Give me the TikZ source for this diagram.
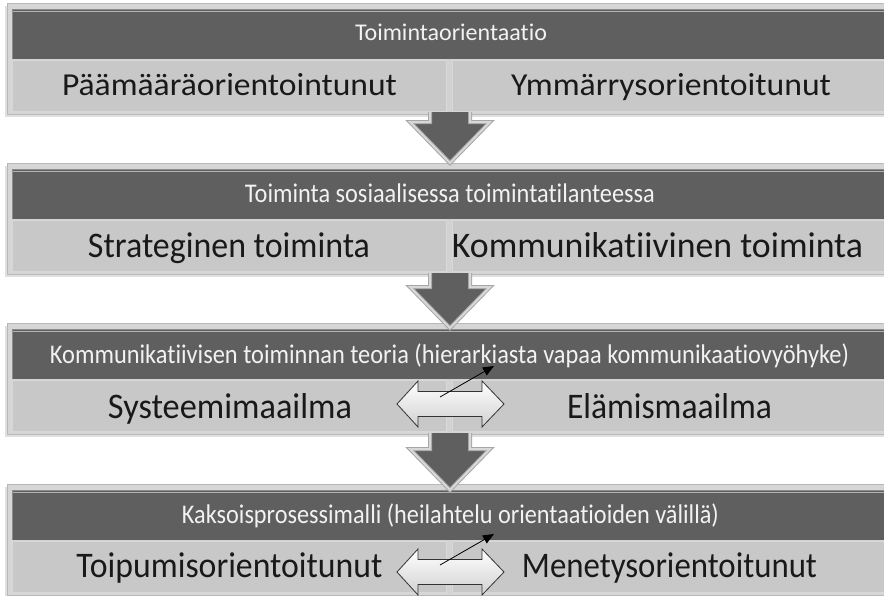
\documentclass[tikz,border=0pt]{standalone}
\usepackage{fontspec}
\setmainfont{Carlito}[Ligatures={NoCommon}, RawFeature={-liga;-dlig;-clig}]
\usepackage{graphicx}
\usetikzlibrary{arrows.meta}
\definecolor{dk}{HTML}{5F5F5F}
\definecolor{frame}{HTML}{D6D6D6}
\definecolor{frameedge}{HTML}{B8B8B8}
\definecolor{rowc}{HTML}{C8C8C8}
\definecolor{rowedge}{HTML}{D8D8D8}
\definecolor{stripe}{HTML}{D2D2D2}
\definecolor{arrout}{HTML}{A6A6A6}
\definecolor{arrin}{HTML}{D8D8D8}
\definecolor{htext}{HTML}{F2F2F2}
\newcommand{\fitw}[2]{\resizebox{#1}{\height}{#2}}
\tikzset{
  hdtext/.style={anchor=base, inner sep=0pt, text=htext},
  rowtext/.style={anchor=base, inner sep=0pt, text=black!90},
  fsA/.style={font=\fontsize{24pt}{28pt}\selectfont},
  fsB/.style={font=\fontsize{27pt}{32pt}\selectfont},
  fsC/.style={font=\fontsize{32pt}{38pt}\selectfont},
  fsD/.style={font=\fontsize{36pt}{42pt}\selectfont},
  dblarrow/.style={draw=black!80, line width=0.8pt, top color=white, bottom color=black!18},
  smallarrow/.style={draw=black, line width=0.8pt, -{Triangle[length=11pt,width=9pt]}}
}
\begin{document}
\begin{tikzpicture}[x=1pt,y=-1pt]
\useasboundingbox (0,0) rectangle (884,595);
\clip (0,0) rectangle (884,595);
\fill[white] (0,0) rectangle (884,595);
% sections
\foreach \T in {3,163,323,484}{
  \fill[black!12] (5,{\T+3}) rectangle (890,{\T+114});
  \filldraw[fill=frame, draw=frameedge, line width=0.8pt] (7,\T) rectangle (890,{\T+111});
  \filldraw[fill=dk, draw=black!45, line width=0.8pt] (12,{\T+6}) rectangle (890,{\T+56});
  \draw[black!30, line width=0.6pt] (13,{\T+8}) -- (890,{\T+8});
  \fill[stripe] (12,{\T+56}) rectangle (890,{\T+109});
  \filldraw[fill=rowc, draw=rowedge, line width=0.8pt] (12,{\T+57}) rectangle (446,{\T+108});
  \filldraw[fill=rowc, draw=rowedge, line width=0.8pt] (452,{\T+57}) rectangle (890,{\T+108});
}
% section 1
\node[hdtext, fsA] (h1) at (451,40) {\fitw{192pt}{Toimintaorientaatio}};
\node[rowtext, fsC] (r1l) at (229.5,95) {\fitw{335pt}{Päämääräorientointunut}};
\node[rowtext, fsC] (r1r) at (671,95) {\fitw{320pt}{Ymmärrysorientoitunut}};
% section 2
\node[hdtext, fsB] (h2) at (450,202) {\fitw{410pt}{Toiminta sosiaalisessa toimintatilanteessa}};
\node[rowtext, fsD] (r2l) at (229,257) {\fitw{282pt}{Strateginen toiminta}};
\node[rowtext, fsD] (r2r) at (657.5,257) {\fitw{411pt}{Kommunikatiivinen toiminta}};
% section 3
\node[hdtext, fsB] (h3) at (449.5,363) {\fitw{799pt}{Kommunikatiivisen toiminnan teoria (hierarkiasta vapaa kommunikaatiovyöhyke)}};
\node[rowtext, fsD] (r3l) at (230,418) {\fitw{244pt}{Systeemimaailma}};
\node[rowtext, fsD] (r3r) at (669.5,418) {\fitw{205pt}{Elämismaailma}};
% section 4
\node[hdtext, fsB] (h4) at (450.5,523) {\fitw{537pt}{Kaksoisprosessimalli (heilahtelu orientaatioiden välillä)}};
\node[rowtext, fsD] (r4l) at (229.5,577) {\fitw{306pt}{Toipumisorientoitunut}};
\node[rowtext, fsD] (r4r) at (669.5,577) {\fitw{295pt}{Menetysorientoitunut}};
% down arrows
\foreach \a/\b in {112/163, 273/328, 433/490}{
  \pgfmathsetmacro{\h}{\b-41}
  \fill[dk] (430,\a) -- (470,\a) -- (470,\h) -- (490,\h) -- (450,\b) -- (410,\h) -- (430,\h) -- cycle;
  \draw[arrout, line width=4pt, line join=miter] (470,\a) -- (470,\h) -- (490,\h) -- (450,\b) -- (410,\h) -- (430,\h) -- (430,\a);
  \draw[arrin, line width=2pt, line join=miter] (470,\a) -- (470,\h) -- (490,\h) -- (450,\b) -- (410,\h) -- (430,\h) -- (430,\a);
}
% double arrows and small arrows
\foreach \c/\n in {404/a, 572/b}{
  \path[dblarrow] (397,\c) -- (418,{\c-23}) -- (418,{\c-12.5}) -- (482,{\c-12.5}) -- (482,{\c-23}) -- (504,\c)
     -- (482,{\c+23}) -- (482,{\c+12.5}) -- (418,{\c+12.5}) -- (418,{\c+23}) -- cycle;
  \coordinate (s\n) at (440,{\c-7});
  \coordinate (e\n) at (494,{\c-38});
  \draw[smallarrow] (s\n) -- (e\n);
}
\end{tikzpicture}
\end{document}
